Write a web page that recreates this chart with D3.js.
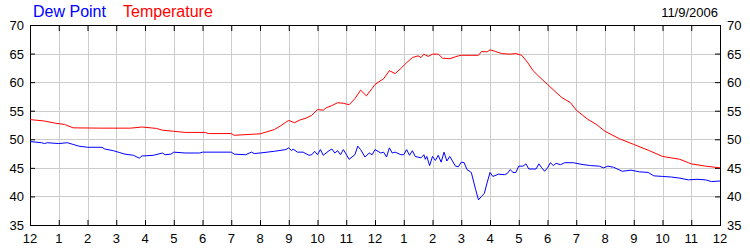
<!DOCTYPE html>
<html>
<head>
<meta charset="utf-8">
<script src="https://cdn.jsdelivr.net/npm/d3@7"></script>
<style>
  body { margin: 0; background: #fff; }
  text { font-family: Arial, "Liberation Sans", sans-serif; }
</style>
</head>
<body>
<div id="chart"></div>
<script>
// hours since midnight and readings
const tempHours = [0, 0.5, 0.9, 1.2, 1.5, 2.5, 3.5, 3.9, 4.4, 4.6, 5, 5.4, 6.1, 6.2, 7, 7.1, 7.8,
  8.0, 8.2, 8.5, 8.7, 8.9, 9.0, 9.2, 9.4, 9.6, 9.8, 10.0, 10.2, 10.3, 10.5, 10.7, 10.9, 11.1, 11.3, 11.5, 11.7, 11.9,
  12.0, 12.3, 12.5, 12.7, 12.9, 13.1, 13.3, 13.5, 13.6, 13.7, 13.85, 14.0, 14.2, 14.35, 14.6, 14.9, 15.0, 15.6, 15.7, 15.9,
  16.0, 16.2, 16.4, 16.7, 16.9, 17.1, 17.3, 17.5, 17.7, 18.0, 18.3, 18.5, 18.8, 19.0, 19.4, 19.7, 20.0, 20.5,
  21.0, 21.5, 22.0, 22.3, 22.6, 22.9, 23.0, 23.5, 24.0];
const tempValues = [53.45, 53.2, 52.8, 52.6, 52.0, 51.95, 51.95, 52.15, 51.9, 51.6, 51.4, 51.2, 51.2, 51.0, 51.0, 50.7, 50.9,
  50.95, 51.25, 51.7, 52.3, 53.0, 53.3, 52.9, 53.4, 53.7, 54.2, 55.2, 55.1, 55.5, 55.9, 56.4, 56.3, 56.05, 57.1, 58.6, 57.6, 58.9,
  59.6, 60.6, 62.0, 61.5, 62.4, 63.4, 64.3, 64.6, 64.3, 64.9, 64.5, 64.9, 64.9, 64.2, 64.1, 64.6, 64.7, 64.7, 65.35, 65.3,
  65.65, 65.35, 65.0, 64.9, 65.0, 64.7, 63.5, 62.0, 61.0, 59.6, 58.2, 57.3, 56.4, 55.1, 53.5, 52.6, 51.4, 50.1,
  49.1, 48.1, 47.0, 46.75, 46.5, 45.9, 45.7, 45.3, 45.0];

const dewHours = [0, 0.4, 0.5, 0.6, 1.0, 1.3, 1.5, 1.7, 2.0, 2.5, 2.6, 2.9, 3.1, 3.3, 3.6, 3.8, 3.9, 4.0, 4.3, 4.6, 4.7, 4.9, 5.0,
  5.4, 5.9, 6.0, 7.0, 7.1, 7.5, 7.7, 7.8,
  8.0, 8.5, 8.9, 9.0, 9.1, 9.15, 9.3, 9.5, 9.7, 9.8, 9.9, 10.0, 10.1, 10.2, 10.4, 10.5, 10.6, 10.7, 10.8, 10.9,
  11.1, 11.3, 11.4, 11.5, 11.65, 11.8, 11.9, 12.0, 12.2, 12.3, 12.4, 12.5, 12.6, 12.7, 12.9, 13.0, 13.1, 13.2, 13.3,
  13.4, 13.6, 13.7, 13.75, 13.8, 13.9, 14.0, 14.1, 14.2, 14.3, 14.4, 14.5, 14.6, 14.8, 14.9, 15.0, 15.1, 15.2, 15.35,
  15.5, 15.6, 15.7, 15.8, 15.9,
  16.0, 16.1, 16.3, 16.5, 16.6, 16.7, 16.8, 16.9, 17.0, 17.15, 17.25, 17.35, 17.6, 17.7, 17.8, 17.9, 18.0, 18.1,
  18.2, 18.3, 18.45, 18.6, 18.9, 19.2, 19.5, 19.8, 19.95, 20.1, 20.3, 20.6, 20.9, 21.2, 21.5, 21.7, 22.0, 22.3,
  22.6, 22.9, 23.2, 23.5, 23.7, 24.0];
const dewValues = [49.6, 49.4, 49.25, 49.4, 49.25, 49.4, 49.1, 48.8, 48.6, 48.6, 48.3, 48.0, 47.7, 47.4, 47.2, 46.7, 47.1, 47.1,
  47.2, 47.6, 47.3, 47.4, 47.75, 47.6, 47.6, 47.75, 47.75, 47.4, 47.3, 47.75, 47.5,
  47.6, 47.9, 48.2, 48.5, 48.0, 48.3, 47.75, 47.75, 47.2, 47.3, 47.9, 47.3, 48.2, 47.2, 48.0, 48.3, 47.6, 48.0, 47.3, 48.2,
  46.5, 47.3, 48.8, 48.2, 46.9, 47.6, 47.3, 48.2, 47.6, 47.75, 46.9, 48.5, 47.6, 47.75, 47.3, 47.3, 48.2, 47.2, 48.0,
  47.0, 46.75, 47.3, 46.5, 47.0, 45.4, 47.0, 46.3, 47.2, 46.0, 47.75, 46.2, 47.0, 45.3, 45.2, 46.0, 45.9, 44.7, 44.2,
  41.2, 39.4, 40.0, 40.5, 42.4,
  44.2, 43.5, 43.9, 43.8, 44.0, 44.7, 44.2, 44.2, 45.3, 45.3, 45.7, 44.8, 44.8, 45.7, 45.0, 44.4, 45.0, 45.9,
  45.4, 45.8, 45.55, 45.9, 45.9, 45.6, 45.4, 45.3, 45.0, 45.3, 45.1, 44.4, 44.6, 44.3, 44.2, 43.6, 43.5, 43.4,
  43.2, 42.9, 43.0, 42.9, 42.6, 42.7];

const hourTicks = d3.range(0, 25);
const hourLabels = ["12", "1", "2", "3", "4", "5", "6", "7", "8", "9", "10", "11",
  "12", "1", "2", "3", "4", "5", "6", "7", "8", "9", "10", "11", "12"];
const yTicks = [35, 40, 45, 50, 55, 60, 65, 70];
const dateLabel = "11/9/2006";

const width = 750, height = 250;
const margin = { left: 30, right: 720, top: 25, bottom: 225 };

const svg = d3.select("#chart")
  .append("svg")
  .attr("width", width)
  .attr("height", height);

const x = d3.scaleLinear().domain([0, 24]).range([margin.left, margin.right]);
const y = d3.scaleLinear().domain([35, 70]).range([margin.bottom, margin.top]);

// grid
svg.append("g")
  .selectAll("line")
  .data(hourTicks.slice(1, -1))
  .enter().append("line")
  .attr("x1", d => Math.round(x(d)) + 0.5).attr("x2", d => Math.round(x(d)) + 0.5)
  .attr("y1", margin.top).attr("y2", margin.bottom)
  .attr("stroke", "#cccccc");

svg.append("g")
  .selectAll("line")
  .data(yTicks.slice(1, -1))
  .enter().append("line")
  .attr("x1", margin.left).attr("x2", margin.right)
  .attr("y1", d => Math.round(y(d)) + 0.5).attr("y2", d => Math.round(y(d)) + 0.5)
  .attr("stroke", "#cccccc");

// axes (ticks point inward)
svg.append("g")
  .attr("transform", `translate(0,${margin.bottom})`)
  .call(d3.axisTop(x).tickValues(hourTicks).tickSize(5).tickFormat(""));
svg.append("g")
  .attr("transform", `translate(0,${margin.top})`)
  .call(d3.axisBottom(x).tickValues(hourTicks).tickSize(6).tickFormat(""));
svg.append("g")
  .attr("transform", `translate(${margin.left},0)`)
  .call(d3.axisRight(y).tickValues(yTicks).tickSize(5).tickFormat(""));
svg.append("g")
  .attr("transform", `translate(${margin.right},0)`)
  .call(d3.axisLeft(y).tickValues(yTicks).tickSize(5).tickFormat(""));

svg.selectAll(".domain").remove();
svg.selectAll(".tick line").attr("stroke", "#000");

svg.append("rect")
  .attr("x", margin.left + 0.5).attr("y", margin.top + 0.5)
  .attr("width", margin.right - margin.left).attr("height", margin.bottom - margin.top)
  .attr("fill", "none")
  .attr("stroke", "#000");

// tick labels
svg.append("g")
  .selectAll("text")
  .data(hourTicks)
  .enter().append("text")
  .attr("x", d => x(d))
  .attr("y", 243)
  .attr("text-anchor", "middle")
  .attr("font-size", 13)
  .text((d, i) => hourLabels[i]);

svg.append("g")
  .selectAll("text")
  .data(yTicks)
  .enter().append("text")
  .attr("x", 24)
  .attr("y", d => y(d) + 5)
  .attr("text-anchor", "end")
  .attr("font-size", 13)
  .text(d => d);

svg.append("g")
  .selectAll("text")
  .data(yTicks)
  .enter().append("text")
  .attr("x", 727)
  .attr("y", d => y(d) + 5)
  .attr("font-size", 13)
  .text(d => d);

// lines
const tempData = tempHours.map((h, i) => [h, tempValues[i]]);
const dewData = dewHours.map((h, i) => [h, dewValues[i]]);

const line = d3.line()
  .x(d => x(d[0]))
  .y(d => y(d[1]));

svg.append("path")
  .datum(dewData)
  .attr("d", line)
  .attr("fill", "none")
  .attr("stroke", "#0000ff")
  .attr("stroke-width", 1);

svg.append("path")
  .datum(tempData)
  .attr("d", line)
  .attr("fill", "none")
  .attr("stroke", "#ff0000")
  .attr("stroke-width", 1);

// legend + date
svg.append("text")
  .attr("x", 33).attr("y", 17)
  .attr("font-size", 16)
  .attr("fill", "#0000ff")
  .text("Dew Point");

svg.append("text")
  .attr("x", 123).attr("y", 17)
  .attr("font-size", 16)
  .attr("fill", "#ff0000")
  .text("Temperature");

svg.append("text")
  .attr("x", 718).attr("y", 17)
  .attr("text-anchor", "end")
  .attr("font-size", 13)
  .text(dateLabel);
</script>
</body>
</html>
